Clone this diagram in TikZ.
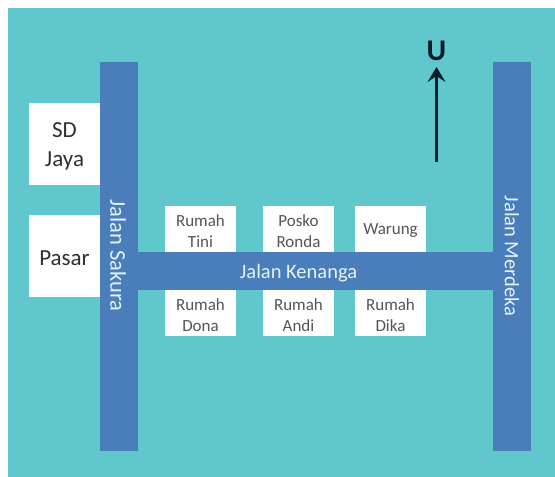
\documentclass[tikz,border=0pt]{standalone}
\usetikzlibrary{arrows.meta}
\usepackage{fontspec}
\setmainfont{Carlito}
\definecolor{teal1}{HTML}{60C8CC}
\definecolor{road}{HTML}{4A7EBB}
\definecolor{smalltxt}{HTML}{555555}
\definecolor{bigtxt}{HTML}{303030}
\definecolor{roadtxt}{HTML}{E4F2FA}
\definecolor{arrowc}{HTML}{0A1E2A}
\tikzset{
  px/.style={x=1pt,y=-1pt},
  plain/.style={inner sep=0pt,outer sep=0pt,align=center},
  roadbar/.style={plain,fill=road},
  bigtext/.style={plain,yshift=-2.5pt,text=bigtxt,font=\fontsize{23}{29}\selectfont},
  housetext/.style={plain,yshift=-2pt,text=smalltxt,font=\fontsize{17}{21.5}\selectfont},
  bigbox/.style={plain,fill=white,minimum width=71pt,minimum height=82pt,label={[bigtext]center:{#1}}},
  housebox/.style={plain,fill=white,minimum width=71pt,minimum height=46pt,label={[housetext]center:{#1}}},
  roadlabel/.style={plain,text=roadtxt,font=\fontsize{20.5}{25}\selectfont},
}
\begin{document}
\begin{tikzpicture}[px]
\useasboundingbox (0,0) rectangle (555,477);
\fill[white] (0,0) rectangle (555,477);
\fill[teal1] (8,8) rectangle (555,477);
\node[roadbar,minimum width=38pt,minimum height=389pt] (sakura) at (119,256.5) {};
\node[roadbar,minimum width=38pt,minimum height=389pt] (merdeka) at (512,256.5) {};
\node[roadbar,minimum width=355pt,minimum height=38pt] (kenanga) at (315.5,271) {};
\node[roadlabel,rotate=-90,font=\fontsize{22.5}{25}\selectfont] (lsakura) at (118,255.5) {Jalan Sakura};
\node[roadlabel,rotate=-90] (lmerdeka) at (512,256) {Jalan Merdeka};
\node[roadlabel] (lkenanga) at (298.5,273) {Jalan Kenanga};
\node[bigbox={SD\\Jaya}] (sd) at (64.5,144) {};
\node[bigbox={Pasar}] (pasar) at (64.5,255.5) {};
\node[housebox={Rumah\\Tini}] (tini) at (200.5,229) {};
\node[housebox={Posko\\Ronda}] (posko) at (298.5,229) {};
\node[housebox={Warung}] (warung) at (390.5,229) {};
\node[housebox={Rumah\\Dona}] (dona) at (200.5,313) {};
\node[housebox={Rumah\\Andi}] (andi) at (298.5,313) {};
\node[housebox={Rumah\\Dika}] (dika) at (390.5,313) {};
\node[plain,text=arrowc,font=\bfseries\fontsize{30}{30}\selectfont] (u) at (436.5,51) {U};
\coordinate (tail) at (436.5,161.5);
\coordinate (head) at (436.5,67);
\draw[arrowc,line width=3pt,-{Stealth[length=15pt,width=18pt,inset=6pt]}] (tail) -- (head);
\end{tikzpicture}
\end{document}
